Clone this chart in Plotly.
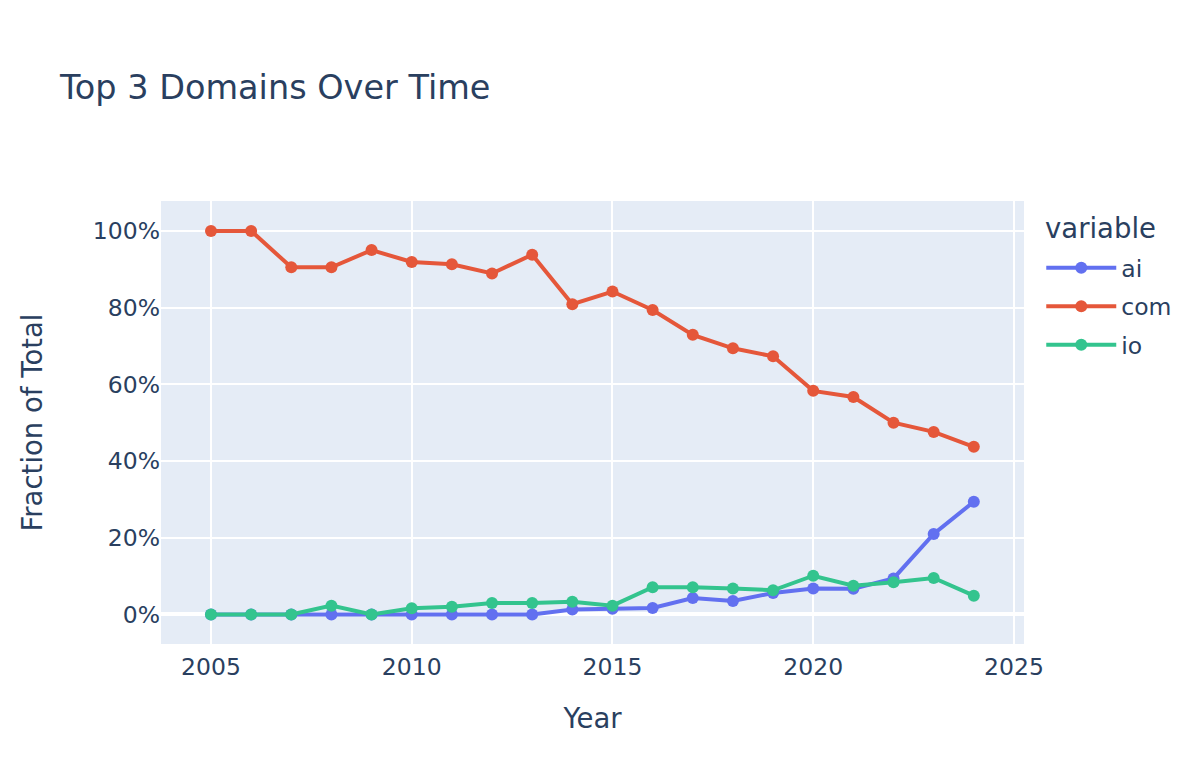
import plotly.graph_objects as go

years = list(range(2005, 2025))
ai = [0.0, 0.0, 0.0, 0.0, 0.0, 0.0, 0.0, 0.0, 0.0, 0.013,
      0.015, 0.017, 0.043, 0.035, 0.056, 0.068, 0.067, 0.094, 0.210, 0.294]
com = [1.0, 1.0, 0.905, 0.905, 0.950, 0.919, 0.913, 0.889, 0.938, 0.809,
       0.842, 0.794, 0.729, 0.694, 0.673, 0.583, 0.567, 0.500, 0.476, 0.437]
io = [0.0, 0.0, 0.0, 0.023, 0.0, 0.016, 0.020, 0.030, 0.030, 0.033,
      0.023, 0.071, 0.071, 0.068, 0.063, 0.101, 0.075, 0.084, 0.095, 0.049]

series = [("ai", ai, "#6270F0"), ("com", com, "#E5573A"), ("io", io, "#33C48E")]

FONT = "DejaVu Sans"
fig = go.Figure()
for name, vals, color in series:
    fig.add_trace(go.Scatter(
        x=years, y=vals, name=name, legendgroup=name, mode="lines+markers",
        line=dict(color=color, width=4),
        marker=dict(color=color, size=12),
    ))

# page body has an 8px margin; shift the layout to compensate
fig.update_layout(
    width=1200, height=769,
    template="plotly",
    font=dict(family=FONT, size=23.5, color="#2a3f5f"),
    title=dict(text="Top 3 Domains Over Time", x=52 / 1200, y=0.8966, yanchor="middle",
               font=dict(size=33.5)),
    margin=dict(l=153, r=184, t=193, b=133),
    legend=dict(font=dict(size=23.5), tracegroupgap=5, itemwidth=70,
                x=1.02, y=0.8985, yanchor="top"),
    xaxis=dict(title=dict(text="Year", font=dict(size=27.5), standoff=29),
               range=[2003.755, 2025.25], dtick=5, gridwidth=2, ticklabelstandoff=6),
    yaxis=dict(title=dict(text="Fraction of Total", font=dict(size=27.5), standoff=42),
               range=[-0.077, 1.078], tickformat=".0%", dtick=0.2, gridwidth=2,
               zerolinewidth=4),
    annotations=[dict(text="variable", xref="paper", yref="paper", x=1.022, y=0.939,
                      xanchor="left", yanchor="middle", showarrow=False,
                      font=dict(size=27.5))],
)

fig.write_html("out.html")
